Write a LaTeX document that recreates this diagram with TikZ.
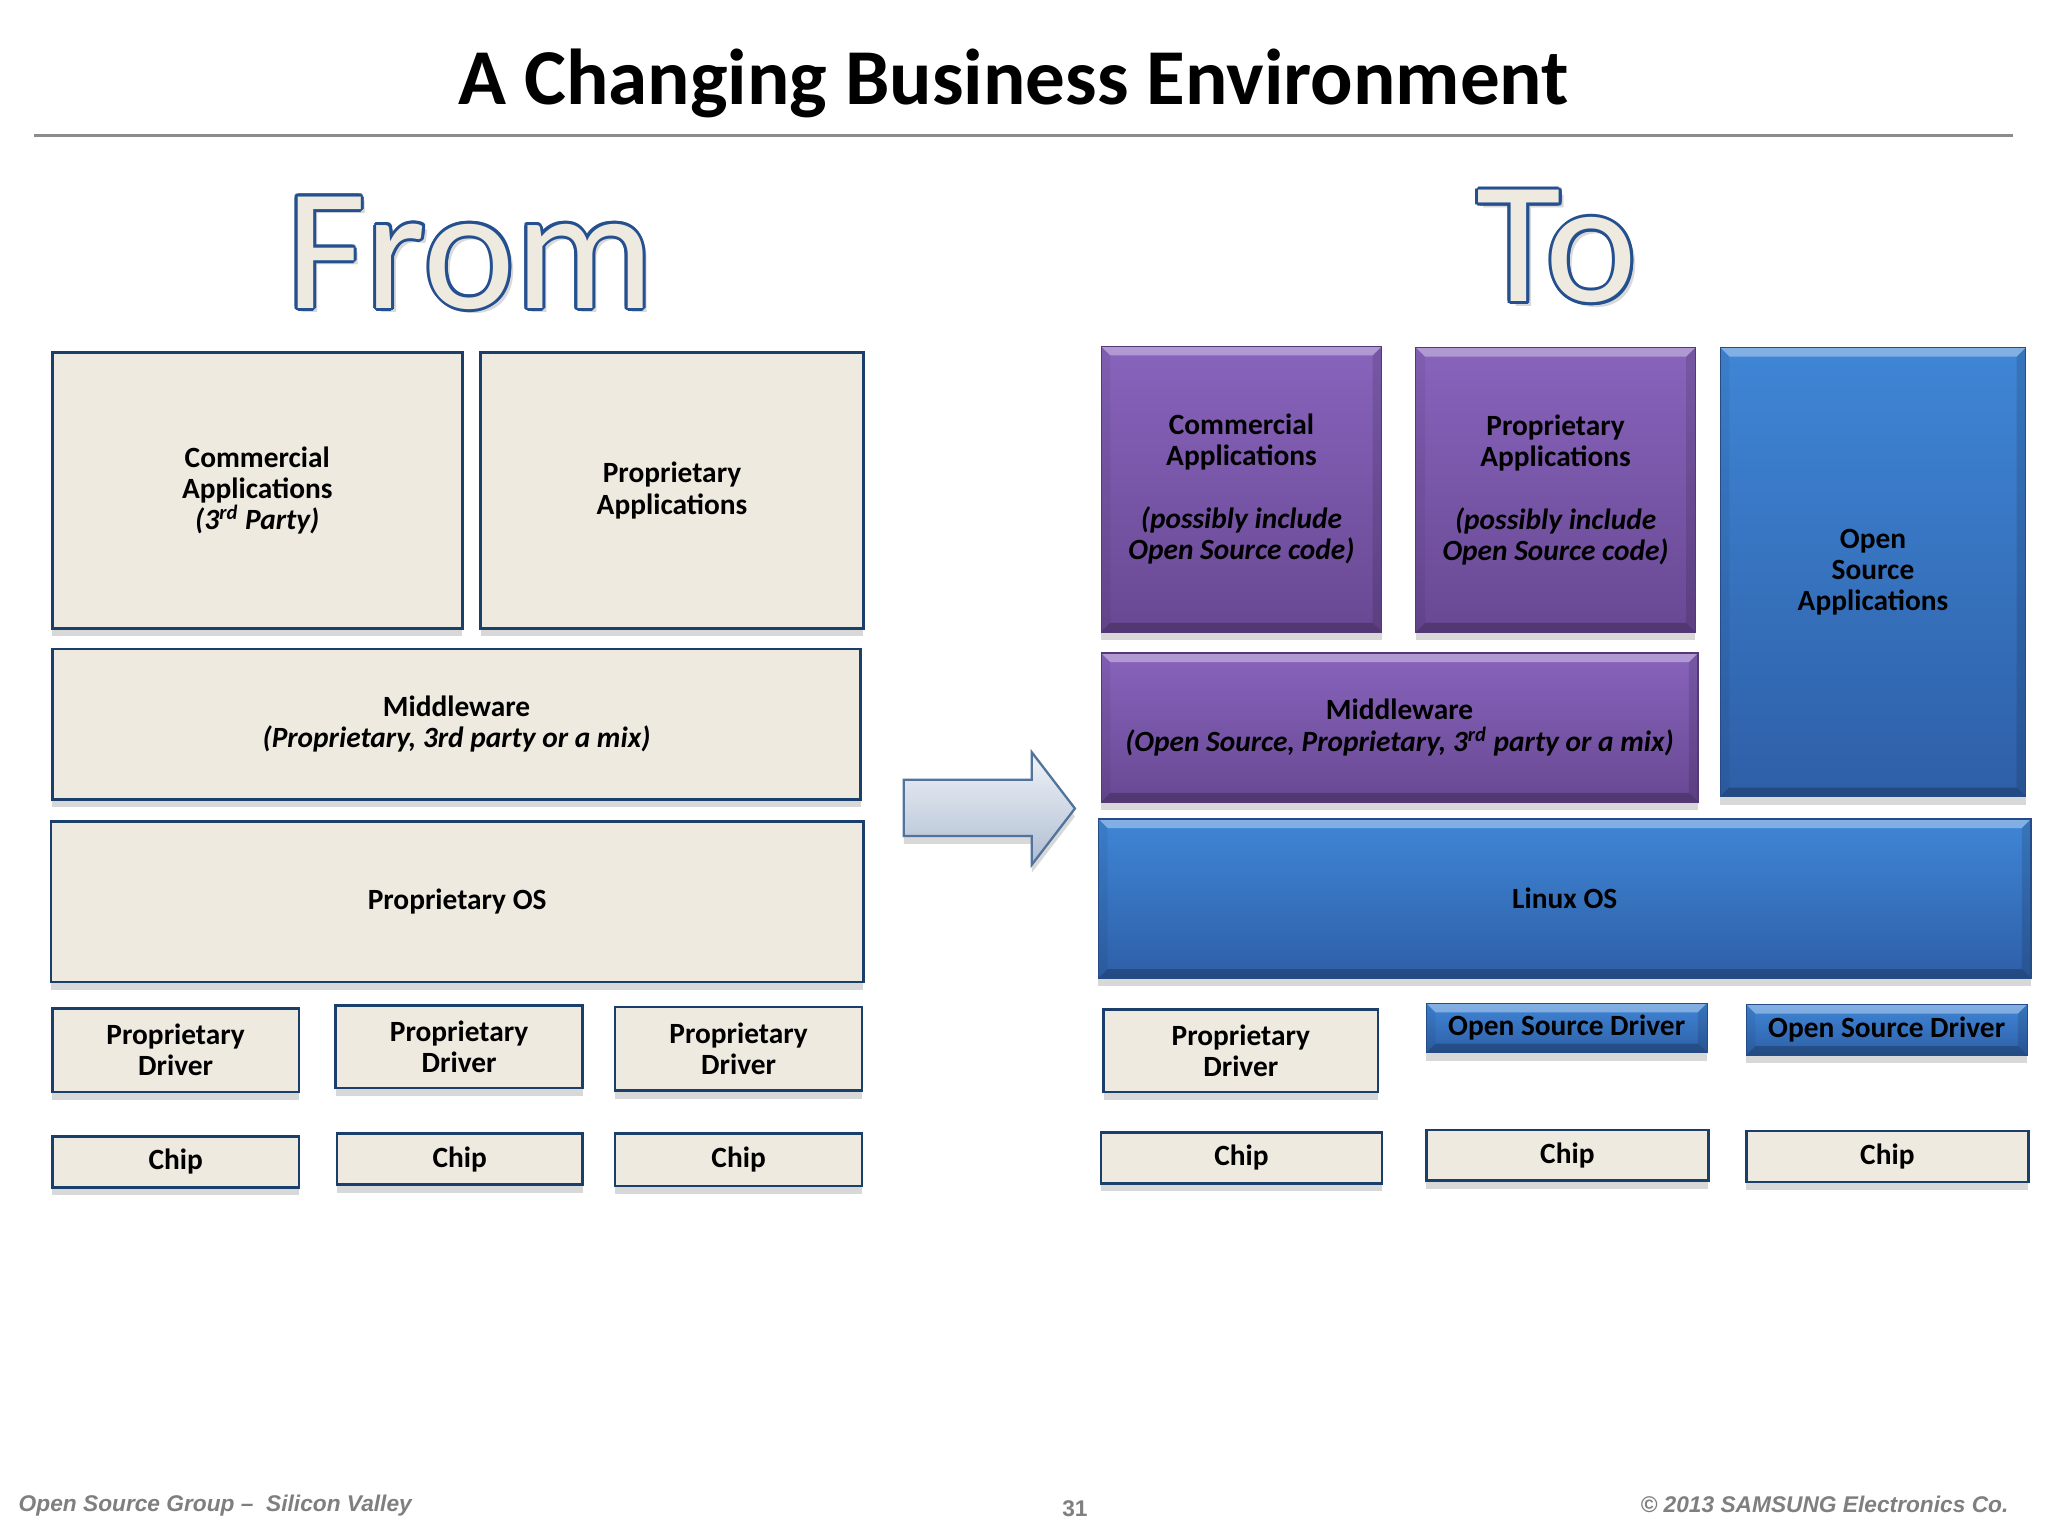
\documentclass[tikz,border=0pt]{standalone}
\usepackage{fontspec}
\setmainfont{Carlito}
\newfontfamily\footfont{Liberation Sans}
\usetikzlibrary{shadows,calc}
\definecolor{cream}{HTML}{EEEAE0}
\definecolor{navy}{HTML}{1B3F6B}
\definecolor{pTop}{HTML}{8864BC}
\definecolor{pBot}{HTML}{684893}
\definecolor{bTop}{HTML}{3F86D6}
\definecolor{bBot}{HTML}{2E5FA7}
\definecolor{outl}{HTML}{24508F}
\definecolor{footgray}{HTML}{7F7F7F}
\definecolor{rulegray}{HTML}{8C8C8C}
\definecolor{arrTop}{HTML}{F0F3F8}
\definecolor{arrBot}{HTML}{AFBDD1}
\definecolor{arrLine}{HTML}{52739C}
\tikzset{
  boxtext/.style={font=\fontsize{12.8}{13.6}\selectfont\bfseries, align=center, inner sep=0pt, outer sep=0pt, text=black},
  softshadow/.style={drop shadow={shadow xshift=0pt, shadow yshift=-3.5pt, opacity=0.25, fill=black!60}},
  creambox/.style={boxtext, fill=cream, draw=navy, line width=1.1pt, softshadow},
  bevel/.style={path picture={
    \path (path picture bounding box.north west) coordinate (pnw) (path picture bounding box.south east) coordinate (pse);
    \fill[white, opacity=0.35] (pnw) -- (pnw -| pse) -- ([shift={(-4pt,-4pt)}]pnw -| pse) -- ([shift={(4pt,-4pt)}]pnw) -- cycle;
    \fill[black, opacity=0.12] (pnw -| pse) -- (pse) -- ([shift={(-4pt,4pt)}]pse) -- ([shift={(-4pt,-4pt)}]pnw -| pse) -- cycle;
    \fill[black, opacity=0.06] (pnw) -- (pnw |- pse) -- ([shift={(4pt,4pt)}]pnw |- pse) -- ([shift={(4pt,-4pt)}]pnw) -- cycle;
    \fill[black, opacity=0.22] (pnw |- pse) -- (pse) -- ([shift={(-4pt,4pt)}]pse) -- ([shift={(4pt,4pt)}]pnw |- pse) -- cycle;
  }},
  purplebox/.style={boxtext, top color=pTop, bottom color=pBot, draw=pBot!80!black, line width=0.5pt, softshadow, bevel},
  bluebox/.style={boxtext, top color=bTop, bottom color=bBot, draw=bBot!80!black, line width=0.5pt, softshadow, bevel},
  bigword/.style={font=\fontsize{75.7}{80}\selectfont, inner sep=0pt, anchor=base},
  foot/.style={font=\footfont\fontsize{9.9}{11}\selectfont\bfseries\itshape, text=footgray, inner sep=0pt},
}
\newcommand\bx[7]{\node[#2, minimum width={(#5-#3)*0.02cm}, minimum height={(#6-#4)*0.02cm}] (#1) at ({(#3+#5)/2},{(#4+#6)/2}) {#7};}
\begin{document}
\begin{tikzpicture}[x=0.02cm, y=-0.02cm]
\useasboundingbox (0,0) rectangle (1568,1176);
\fill[white] (0,0) rectangle (1568,1176);

% title and rule
\node[font=\fontsize{34.5}{40}\selectfont\bfseries, anchor=base, inner sep=0pt] (title) at (776,80) {A Changing Business Environment};
\coordinate (rl) at (26,104);
\coordinate (rr) at (1541,104);
\draw[rulegray, line width=1.4pt] (rl) -- (rr);

% From / To outlined words
\foreach \w/\px/\py/\nm in {From/360/236/from, To/1192/231/to}{
  \node[bigword, text=black, opacity=0.15] (\nm sh) at ($(\px,\py)+(3.5,3.5)$) {\w};
  \foreach \a [count=\i] in {0,30,...,330}
    \node[bigword, text=outl] (\nm o\i) at ($(\px,\py)+(\a:2.3)$) {\w};
  \node[bigword, text=cream] (\nm) at (\px,\py) {\w};
}

% From stack
\bx{lca}{creambox}{40}{270}{354}{481}{Commercial\\Applications\\\itshape (3\textsuperscript{rd} Party)}
\bx{lpa}{creambox}{368}{270}{661}{481}{Proprietary\\Applications}
\bx{lmw}{creambox}{40}{497}{659}{612}{Middleware\\\itshape (Proprietary, 3rd party or a mix)}
\bx{los}{creambox}{39}{629}{661}{752}{Proprietary OS}
\bx{ld1}{creambox}{40}{772}{229}{836}{Proprietary\\Driver}
\bx{ld2}{creambox}{257}{770}{446}{833}{Proprietary\\Driver}
\bx{ld3}{creambox}{471}{771}{660}{835}{Proprietary\\Driver}
\bx{lc1}{creambox}{40}{870}{229}{909}{Chip}
\bx{lc2}{creambox}{258}{868}{446}{907}{Chip}
\bx{lc3}{creambox}{471}{868}{660}{908}{Chip}

% block arrow
\path[draw=arrLine, line width=1pt, top color=arrTop, bottom color=arrBot, softshadow]
  (692,597) -- (790,597) -- (790,576) -- (823,619) -- (790,662) -- (790,640) -- (692,640) -- cycle;

% To stack
\bx{rca}{purplebox}{843}{265}{1058}{484}{Commercial\\Applications\\[13.6pt]\itshape (possibly include\\\itshape Open Source code)}
\bx{rpa}{purplebox}{1084}{266}{1298}{484}{Proprietary\\Applications\\[13.6pt]\itshape (possibly include\\\itshape Open Source code)}
\bx{roa}{bluebox}{1317}{266}{1551}{610}{Open\\Source\\Applications}
\bx{rmw}{purplebox}{843}{500}{1300}{614}{Middleware\\\itshape (Open Source, Proprietary, 3\textsuperscript{rd} party or a mix)}
\bx{ros}{bluebox}{841}{627}{1555}{749}{Linux OS}
\bx{rd1}{creambox}{845}{773}{1055}{836}{Proprietary\\Driver}
\bx{rd2}{bluebox}{1092}{768}{1307}{806}{Open Source Driver}
\bx{rd3}{bluebox}{1337}{769}{1552}{808}{Open Source Driver}
\bx{rc1}{creambox}{843}{867}{1058}{906}{Chip}
\bx{rc2}{creambox}{1092}{865}{1308}{904}{Chip}
\bx{rc3}{creambox}{1337}{866}{1553}{905}{Chip}

% footer
\node[foot, anchor=base west] (f1) at (14,1157) {Open Source Group –\ \ Silicon Valley};
\node[foot, anchor=base, font=\footfont\fontsize{9.9}{11}\selectfont\bfseries] (f2) at (823,1161) {31};
\node[foot, anchor=base east] (f3) at (1538,1158) {© 2013 SAMSUNG Electronics Co.};
\end{tikzpicture}
\end{document}
